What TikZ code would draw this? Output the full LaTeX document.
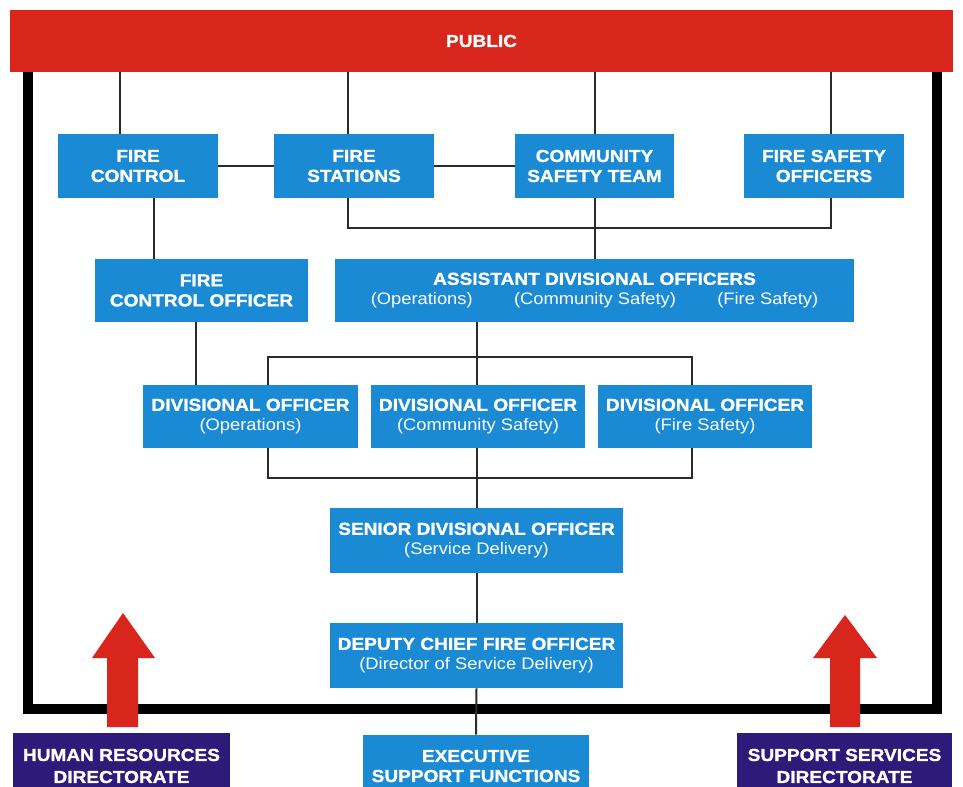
\documentclass[tikz,border=0pt]{standalone}
\usepackage{fontspec}
\setmainfont{Liberation Sans}[FakeStretch=1.1,BoldFeatures={FakeBold=1.2}]
\usetikzlibrary{calc}
\definecolor{boxblue}{HTML}{1A8AD4}
\definecolor{barred}{HTML}{D9261C}
\definecolor{navy}{HTML}{2D1B7A}
\definecolor{linegray}{HTML}{2B2B2B}
\newcommand{\subln}[1]{{\fontsize{12.5}{15}\selectfont\mdseries #1}}
\pgfdeclarelayer{back}
\pgfdeclarelayer{bg}
\pgfsetlayers{back,bg,main}
\begin{document}
\begin{tikzpicture}[x=0.75pt,y=-0.75pt,
  box/.style={fill=boxblue,text=white,inner sep=0pt,align=center,font=\fontsize{13}{15}\selectfont\bfseries},
  dirbox/.style={box,fill=navy,font=\fontsize{13}{16.5}\selectfont\bfseries},
  sz/.style 2 args={minimum width=#1*0.75pt,minimum height=#2*0.75pt},
  conn/.style={draw=linegray,line width=1.5pt},
  frameline/.style={line width=7.5pt,draw=black,line join=miter},
  uparrow/.style={fill=barred}]
\clip (0,0) rectangle (963,787);
\begin{pgfonlayer}{back}
  \fill[white] (0,0) rectangle (963,787);
\end{pgfonlayer}

% top bar
\node[box,fill=barred,sz={943}{62}] (public) at (481.5,41) {PUBLIC};

% top row
\node[box,sz={160}{64}] (fc) at (138,166) {FIRE\\CONTROL};
\node[box,sz={160}{64}] (fs) at (354,166) {FIRE\\STATIONS};
\node[box,sz={159}{64}] (cst) at (594.5,166) {COMMUNITY\\SAFETY TEAM};
\node[box,sz={160}{64}] (fso) at (824,166) {FIRE SAFETY\\OFFICERS};

% second row
\node[box,sz={213}{63}] (fco) at (201.5,290.5) {FIRE\\CONTROL OFFICER};
\node[box,sz={519}{63}] (ado) at (594.5,290.5) {ASSISTANT DIVISIONAL OFFICERS\\\subln{(Operations)\hspace{31pt}(Community Safety)\hspace{31pt}(Fire Safety)}};

% divisional officers
\node[box,sz={215}{63}] (do1) at (250.5,416.5) {DIVISIONAL OFFICER\\\subln{(Operations)}};
\node[box,sz={214}{63}] (do2) at (478,416.5) {DIVISIONAL OFFICER\\\subln{(Community Safety)}};
\node[box,sz={214}{63}] (do3) at (705,416.5) {DIVISIONAL OFFICER\\\subln{(Fire Safety)}};

% senior / deputy
\node[box,sz={293}{65}] (sdo) at (476.5,540.5) {SENIOR DIVISIONAL OFFICER\\\subln{(Service Delivery)}};
\node[box,sz={293}{65}] (dcfo) at (476.5,655.5) {DEPUTY CHIEF FIRE OFFICER\\\subln{(Director of Service Delivery)}};

% bottom boxes
\node[box,sz={226}{62}] (exec) at (476,766) {EXECUTIVE\\SUPPORT FUNCTIONS};
\node[dirbox,sz={217}{66}] (hr) at (121.5,766) {HUMAN RESOURCES\\DIRECTORATE};
\node[dirbox,sz={215}{66}] (ss) at (844.5,766) {SUPPORT SERVICES\\DIRECTORATE};

\begin{pgfonlayer}{bg}
  % frame
  \draw[frameline] (28,72) -- (28,709) -- (937,709) -- (937,72);
  % public to top row
  \draw[conn] ($(fc.north west)+(62,0)$) coordinate (t1) -- (t1 |- public.south);
  \draw[conn] ($(fs.north west)+(74,0)$) coordinate (t2) -- (t2 |- public.south);
  \draw[conn] ($(cst.north west)+(80,0)$) coordinate (t3) -- (t3 |- public.south);
  \draw[conn] ($(fso.north west)+(87,0)$) coordinate (t4) -- (t4 |- public.south);
  % horizontal links
  \draw[conn] (fc.east) -- (fs.west);
  \draw[conn] (fs.east) -- (cst.west);
  % bracket under top row
  \draw[conn] ($(fs.south west)+(74,0)$) |- ($(fso.south west)+(87,30)$) -- ($(fso.south west)+(87,0)$);
  \draw[conn] ($(cst.south west)+(80,0)$) coordinate (c1) -- (c1 |- ado.north);
  % fire control chain
  \draw[conn] ($(fc.south west)+(96,0)$) coordinate (c2) -- (c2 |- fco.north);
  \draw[conn] ($(fco.south west)+(101,0)$) coordinate (c3) -- (c3 |- do1.north);
  % brackets around divisional officers
  \draw[conn] ($(do1.north west)+(125,0)$) -- ++(0,-28) -| ($(do3.north west)+(94,0)$);
  \draw[conn] ($(do1.south west)+(125,0)$) -- ++(0,30) -| ($(do3.south west)+(94,0)$);
  % central spine
  \draw[conn] (ado.south -| sdo.north) -- (sdo.north);
  \draw[conn] (sdo.south) -- (dcfo.north);
  \draw[conn] (dcfo.south) -- (exec.north);
\end{pgfonlayer}

% red arrows
\fill[uparrow] (123,613) -- (155,658) -- (138,658) -- (138,727) -- (107,727) -- (107,658) -- (92,658) -- cycle;
\fill[uparrow] (845,615) -- (877,658) -- (860,658) -- (860,727) -- (830,727) -- (830,658) -- (813,658) -- cycle;
\end{tikzpicture}
\end{document}
